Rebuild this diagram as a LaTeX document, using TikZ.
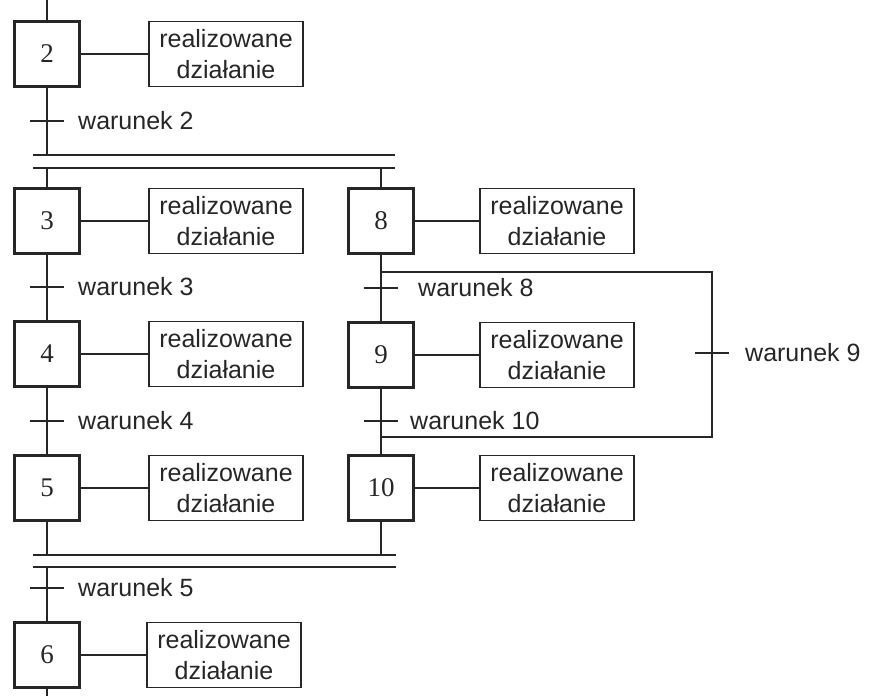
\documentclass[tikz,border=0pt]{standalone}
\usepackage{fontspec}
\setmainfont{Liberation Sans}
\newfontfamily\krokfont{Liberation Serif}
\usetikzlibrary{positioning}

\tikzset{
  krok/.style={draw, line width=3pt, minimum size=65pt, inner sep=0pt,
    font=\krokfont\fontsize{27}{30}\selectfont},
  akcja/.style={draw, line width=1.8pt, minimum width=154pt, minimum height=65pt,
    inner sep=0pt, align=center, font=\fontsize{25}{31}\selectfont},
  linia/.style={line width=1.8pt},
  kreska/.style={line width=2.2pt},
  warunek/.style={inner sep=0pt, font=\fontsize{25}{30}\selectfont}
}

\begin{document}
\begin{tikzpicture}[x=1pt, y=-1pt, color=black!85]
    \useasboundingbox (0,0) rectangle (869,696);

    % kroki z dzialaniami
    \foreach \n/\x/\y/\ax in {2/47/54/226, 3/47/221/226, 4/47/354/226, 5/47/488/226,
                              6/47/655/224, 8/381/221/557, 9/381/355/557, 10/381/488/557} {
      \node[krok] (s\n) at (\x,\y) {\n};
      \node[akcja] (a\n) at (\ax,\y) {realizowane\\działanie};
      \draw[linia] (s\n) -- (a\n);
    }

    % rozgalezienie rownolegle
    \coordinate (g1) at (33,155);  \coordinate (g2) at (395,155);
    \coordinate (g3) at (33,168);  \coordinate (g4) at (395,168);
    \coordinate (d1) at (33,555);  \coordinate (d2) at (396,555);
    \coordinate (d3) at (33,567);  \coordinate (d4) at (396,567);
    \coordinate (start) at (47,0);
    \coordinate (koniec) at (47,696);
    \draw[linia] (g1) -- (g2) (g3) -- (g4) (d1) -- (d2) (d3) -- (d4);

    \draw[linia] (start) -- (s2.north);
    \draw[linia] (s2.south) -- (s2.south |- g1);
    \draw[linia] (s3.north |- g3) -- (s3.north);
    \draw[linia] (s8.north |- g3) -- (s8.north);
    \draw[linia] (s3) -- (s4) -- (s5);
    \draw[linia] (s8) -- (s9) -- (s10);
    \draw[linia] (s5.south) -- (s5.south |- d1);
    \draw[linia] (s10.south) -- (s10.south |- d1);
    \draw[linia] (s6.north |- d3) -- (s6.north);
    \draw[linia] (s6.south) -- (koniec);

    % petla warunek 9
    \coordinate (p1) at (381,272);
    \coordinate (p2) at (381,437);
    \coordinate (t9) at (712,353);
    \draw[linia] (p1) -| (t9) |- (p2);

    % przejscia
    \foreach \n/\x/\y/\d in {2/47/121/31pt, 3/47/287/31pt, 4/47/421/31pt, 5/47/588/31pt,
                             8/381/288/37pt, 10/381/421/29pt, 9/712/353/33pt} {
      \coordinate (t\n) at (\x,\y);
      \draw[kreska] ([xshift=-17pt]t\n) -- ([xshift=17pt]t\n);
      \node[warunek, right=\d of t\n] (w\n) {warunek \n};
    }
\end{tikzpicture}
\end{document}
